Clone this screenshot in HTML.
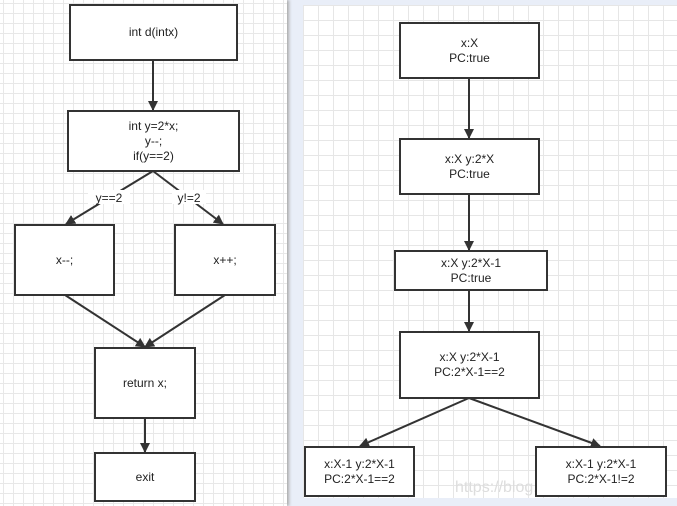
<!DOCTYPE html>
<html><head><style>
body{margin:0;width:677px;height:506px;overflow:hidden;position:relative;background:#fff;font-family:"Liberation Sans",sans-serif}
.l{position:absolute;left:0;top:0;width:287px;height:506px;background-color:#fff;background-image:linear-gradient(#e8e8e8 1px,transparent 1px),linear-gradient(90deg,#e8e8e8 1px,transparent 1px);background-size:10px 10px;background-position:3px 3px;box-shadow:2px 0 3px #aaa}
.band{position:absolute;left:287px;top:0;width:390px;height:506px;background:#e9eef8}
.r{position:absolute;left:303px;top:5px;width:374px;height:493px;background-color:#fff;background-image:linear-gradient(#e6e6e6 1px,transparent 1px),linear-gradient(90deg,#e6e6e6 1px,transparent 1px);background-size:15px 15px}
.b{position:absolute;border:2px solid #333;background:#fff;box-sizing:border-box;display:flex;align-items:center;justify-content:center;text-align:center;font-size:12px;line-height:15px;color:#222}
svg{position:absolute;left:0;top:0}
.t{font-size:12px;fill:#222;font-family:"Liberation Sans",sans-serif}
</style></head><body>
<div class="band"></div><div class="l"></div><div class="r"></div>
<svg width="677" height="506">
<defs><marker id="a" markerWidth="10" markerHeight="10" refX="9" refY="5" orient="auto" markerUnits="userSpaceOnUse"><path d="M0,0L10,5L0,10z" fill="#333"/></marker></defs>
<g stroke="#333" stroke-width="2" fill="none" marker-end="url(#a)">
<line x1="153" y1="60" x2="153" y2="110"/>
<line x1="153" y1="171" x2="66" y2="224"/>
<line x1="153" y1="171" x2="223" y2="224"/>
<line x1="65" y1="295" x2="145" y2="347"/>
<line x1="225" y1="295" x2="145" y2="347"/>
<line x1="145" y1="418" x2="145" y2="452"/>
<line x1="469" y1="78" x2="469" y2="138"/>
<line x1="469" y1="194" x2="469" y2="250"/>
<line x1="469" y1="290" x2="469" y2="331"/>
<line x1="469" y1="398" x2="360" y2="446"/>
<line x1="469" y1="398" x2="600" y2="446"/>
</g>
<rect x="88" y="190" width="42" height="14" fill="#fff"/><text class="t" x="109" y="202" text-anchor="middle">y==2</text>
<rect x="172" y="190" width="34" height="14" fill="#fff"/><text class="t" x="189" y="202" text-anchor="middle">y!=2</text>
<text x="455" y="492" font-size="16" fill="#ddd" font-family="Liberation Sans">https://blog.csdn.net/song_lee</text>
</svg>
<div class="b" style="left:69px;top:4px;width:169px;height:57px">int d(intx)</div>
<div class="b" style="left:67px;top:110px;width:173px;height:62px">int y=2*x;<br>y--;<br>if(y==2)</div>
<div class="b" style="left:14px;top:224px;width:101px;height:72px">x--;</div>
<div class="b" style="left:174px;top:224px;width:102px;height:72px">x++;</div>
<div class="b" style="left:94px;top:347px;width:102px;height:72px">return x;</div>
<div class="b" style="left:94px;top:452px;width:102px;height:50px">exit</div>
<div class="b" style="left:399px;top:22px;width:141px;height:57px">x:X<br>PC:true</div>
<div class="b" style="left:399px;top:138px;width:141px;height:57px">x:X y:2*X<br>PC:true</div>
<div class="b" style="left:394px;top:250px;width:154px;height:41px">x:X y:2*X-1<br>PC:true</div>
<div class="b" style="left:399px;top:331px;width:141px;height:68px">x:X y:2*X-1<br>PC:2*X-1==2</div>
<div class="b" style="left:304px;top:446px;width:111px;height:51px">x:X-1 y:2*X-1<br>PC:2*X-1==2</div>
<div class="b" style="left:535px;top:446px;width:132px;height:51px">x:X-1 y:2*X-1<br>PC:2*X-1!=2</div>
</body></html>
